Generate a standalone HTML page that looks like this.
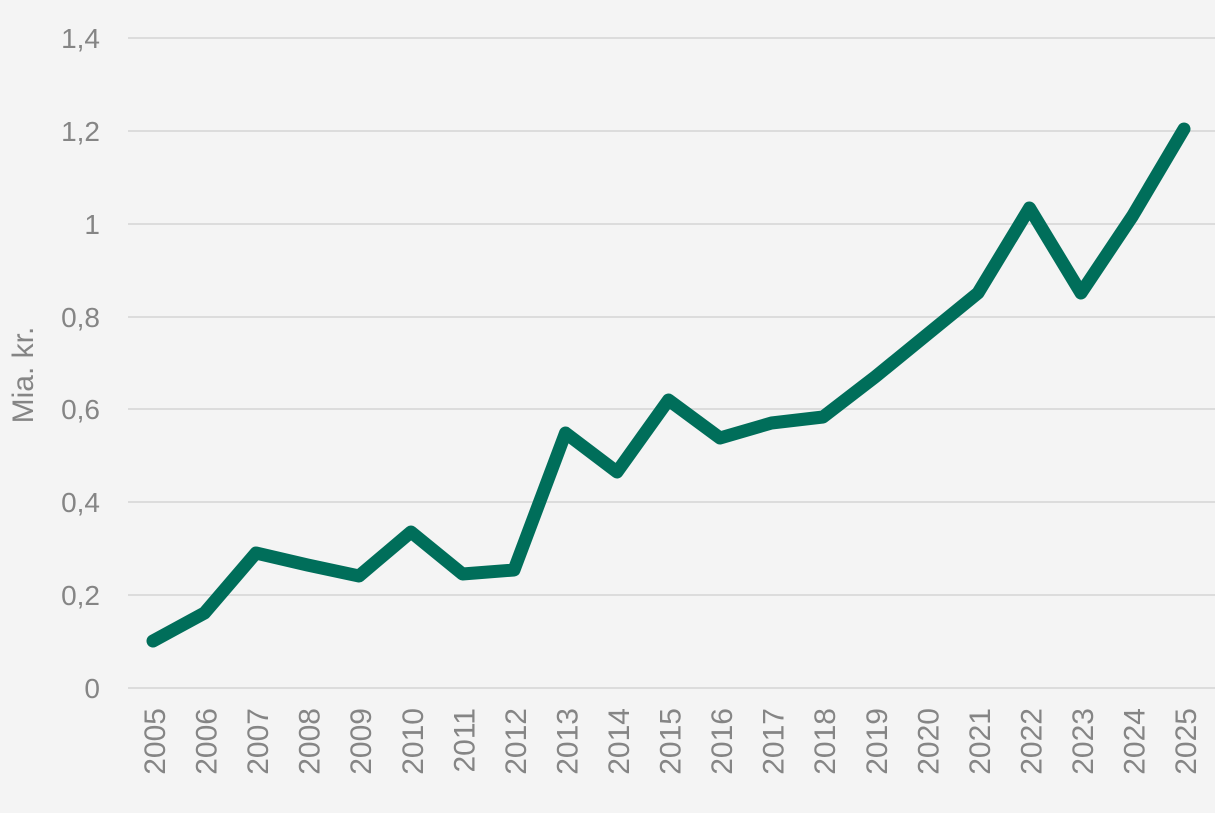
<!DOCTYPE html>
<html><head><meta charset="utf-8"><style>
html,body{margin:0;padding:0;background:#f4f4f4;}
svg text{font-family:"Liberation Sans",sans-serif;fill:#858585;}
</style></head><body>
<svg width="1215" height="808" xmlns="http://www.w3.org/2000/svg">
<rect width="1215" height="808" fill="#f4f4f4"/>
<g stroke="#dcdcdc" stroke-width="2">
<line x1="128" x2="1215" y1="38" y2="38"/>
<line x1="128" x2="1215" y1="131" y2="131"/>
<line x1="128" x2="1215" y1="224" y2="224"/>
<line x1="128" x2="1215" y1="317" y2="317"/>
<line x1="128" x2="1215" y1="409" y2="409"/>
<line x1="128" x2="1215" y1="502" y2="502"/>
<line x1="128" x2="1215" y1="595" y2="595"/>
<line x1="128" x2="1215" y1="688" y2="688"/>
</g>
<g font-size="28" text-anchor="end">
<text x="100" y="48">1,4</text>
<text x="100" y="141">1,2</text>
<text x="100" y="234">1</text>
<text x="100" y="327">0,8</text>
<text x="100" y="419">0,6</text>
<text x="100" y="512">0,4</text>
<text x="100" y="605">0,2</text>
<text x="100" y="698">0</text>
</g>
<text font-size="30" text-anchor="middle" transform="translate(33,375) rotate(-90)">Mia. kr.</text>
<g font-size="30" text-anchor="end">
<text transform="translate(165,708) rotate(-90)">2005</text>
<text transform="translate(216.5,708) rotate(-90)">2006</text>
<text transform="translate(268,708) rotate(-90)">2007</text>
<text transform="translate(319.5,708) rotate(-90)">2008</text>
<text transform="translate(371,708) rotate(-90)">2009</text>
<text transform="translate(423,708) rotate(-90)">2010</text>
<text transform="translate(474.5,708) rotate(-90)">2011</text>
<text transform="translate(526,708) rotate(-90)">2012</text>
<text transform="translate(577.5,708) rotate(-90)">2013</text>
<text transform="translate(629,708) rotate(-90)">2014</text>
<text transform="translate(680.5,708) rotate(-90)">2015</text>
<text transform="translate(732,708) rotate(-90)">2016</text>
<text transform="translate(783.5,708) rotate(-90)">2017</text>
<text transform="translate(835,708) rotate(-90)">2018</text>
<text transform="translate(887,708) rotate(-90)">2019</text>
<text transform="translate(938.5,708) rotate(-90)">2020</text>
<text transform="translate(990,708) rotate(-90)">2021</text>
<text transform="translate(1041.5,708) rotate(-90)">2022</text>
<text transform="translate(1093,708) rotate(-90)">2023</text>
<text transform="translate(1144.5,708) rotate(-90)">2024</text>
<text transform="translate(1196,708) rotate(-90)">2025</text>
</g>
<polyline fill="none" stroke="#006e5a" stroke-width="13" stroke-linejoin="round" stroke-linecap="round"
points="153,641 204.5,613 256,553 307.5,565 359,576 411,532 462.5,574 514,570 565.5,433 617,472 668.5,400 720,438 771.5,423 823,417 875,377 926.5,335 978,293 1029.5,208 1081,293 1132.5,216 1184,129"/>
</svg>
</body></html>
